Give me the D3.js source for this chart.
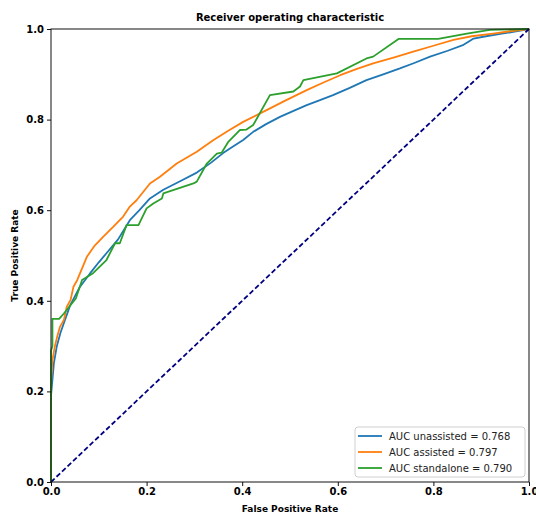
<!DOCTYPE html>
<html>
<head>
<meta charset="utf-8">
<script src="https://cdn.jsdelivr.net/npm/d3@7"></script>
<style>
  body { margin: 0; background: #fff; }
  text { font-family: "DejaVu Sans", sans-serif; }
</style>
</head>
<body>
<div id="chart"></div>
<script>
// ROC curves
const unassistedFpr = [0, 0, 0.006, 0.012, 0.02, 0.04, 0.06, 0.082, 0.1, 0.116, 0.14, 0.165, 0.185, 0.207, 0.235, 0.27, 0.305, 0.335, 0.36, 0.38, 0.402, 0.423, 0.45, 0.479, 0.505, 0.535, 0.56, 0.59, 0.625, 0.66, 0.695, 0.73, 0.76, 0.793, 0.83, 0.863, 0.875, 0.884, 0.91, 0.94, 0.97, 1.0];
const unassistedTpr = [0, 0.19, 0.262, 0.299, 0.33, 0.39, 0.43, 0.461, 0.485, 0.505, 0.535, 0.578, 0.6, 0.626, 0.645, 0.664, 0.683, 0.705, 0.726, 0.74, 0.755, 0.773, 0.79, 0.806, 0.818, 0.832, 0.842, 0.854, 0.87, 0.887, 0.9, 0.913, 0.925, 0.939, 0.952, 0.965, 0.973, 0.979, 0.984, 0.989, 0.994, 1.0];

const assistedFpr = [0, 0, 0.003, 0.008, 0.013, 0.019, 0.027, 0.033, 0.041, 0.047, 0.055, 0.075, 0.09, 0.109, 0.13, 0.151, 0.165, 0.179, 0.207, 0.228, 0.263, 0.305, 0.34, 0.37, 0.402, 0.451, 0.49, 0.535, 0.57, 0.605, 0.64, 0.674, 0.72, 0.758, 0.8, 0.842, 0.88, 0.925, 0.96, 1.0];
const assistedTpr = [0, 0.22, 0.269, 0.299, 0.321, 0.343, 0.358, 0.387, 0.402, 0.431, 0.446, 0.497, 0.52, 0.541, 0.563, 0.586, 0.608, 0.622, 0.659, 0.674, 0.703, 0.729, 0.755, 0.775, 0.795, 0.821, 0.842, 0.865, 0.882, 0.898, 0.912, 0.924, 0.938, 0.95, 0.963, 0.976, 0.984, 0.99, 0.995, 1.0];

const standaloneFpr = [0, 0, 0.003, 0.003, 0.017, 0.027, 0.052, 0.065, 0.088, 0.116, 0.134, 0.144, 0.158, 0.183, 0.2, 0.214, 0.232, 0.235, 0.298, 0.305, 0.326, 0.347, 0.357, 0.371, 0.395, 0.409, 0.423, 0.458, 0.507, 0.521, 0.528, 0.598, 0.66, 0.674, 0.727, 0.81, 0.87, 0.918, 1.0];
const standaloneTpr = [0, 0.29, 0.3, 0.36, 0.36, 0.372, 0.405, 0.446, 0.461, 0.49, 0.527, 0.527, 0.567, 0.567, 0.604, 0.615, 0.626, 0.637, 0.659, 0.663, 0.703, 0.725, 0.727, 0.751, 0.777, 0.778, 0.788, 0.854, 0.862, 0.873, 0.887, 0.902, 0.935, 0.939, 0.978, 0.978, 0.99, 0.998, 1.0];

const seriesNames = ["AUC unassisted = 0.768", "AUC assisted = 0.797", "AUC standalone = 0.790"];
const seriesColors = ["#1f77b4", "#ff7f0e", "#2ca02c"];
const tickValues = [0, 0.2, 0.4, 0.6, 0.8, 1.0];

const series = [
  { name: seriesNames[0], color: seriesColors[0], points: unassistedFpr.map((x, i) => [x, unassistedTpr[i]]) },
  { name: seriesNames[1], color: seriesColors[1], points: assistedFpr.map((x, i) => [x, assistedTpr[i]]) },
  { name: seriesNames[2], color: seriesColors[2], points: standaloneFpr.map((x, i) => [x, standaloneTpr[i]]) },
];

// Set up the SVG element and dimensions
const svgWidth = 536;
const svgHeight = 514;
const margin = { top: 29, right: 7, bottom: 32, left: 51 };
const chartWidth = svgWidth - margin.left - margin.right;
const chartHeight = svgHeight - margin.top - margin.bottom;

const svg = d3.select("#chart")
  .append("svg")
  .attr("width", svgWidth)
  .attr("height", svgHeight);

const chart = svg.append("g")
  .attr("transform", `translate(${margin.left}, ${margin.top})`);

// Scales
const xScale = d3.scaleLinear().domain([0, 1]).range([0, chartWidth]);
const yScale = d3.scaleLinear().domain([0, 1]).range([chartHeight, 0]);

const line = d3.line()
  .x(d => xScale(d[0]))
  .y(d => yScale(d[1]));

// Curves
series.forEach(s => {
  chart.append("path")
    .datum(s.points)
    .attr("fill", "none")
    .attr("stroke", s.color)
    .attr("stroke-width", 1.8)
    .attr("stroke-linejoin", "round")
    .attr("d", line);
});

// Chance diagonal
chart.append("path")
  .datum([[0, 0], [1, 1]])
  .attr("fill", "none")
  .attr("stroke", "navy")
  .attr("stroke-width", 1.8)
  .attr("stroke-dasharray", "5,2.6")
  .attr("d", line);

// Frame
chart.append("rect")
  .attr("width", chartWidth)
  .attr("height", chartHeight)
  .attr("fill", "none")
  .attr("stroke", "#111")
  .attr("stroke-width", 1);

// Axes
const xAxis = d3.axisBottom(xScale).tickValues(tickValues).tickFormat(d3.format(".1f")).tickSize(4).tickPadding(2);
const yAxis = d3.axisLeft(yScale).tickValues(tickValues).tickFormat(d3.format(".1f")).tickSize(4).tickPadding(3);

const gx = chart.append("g")
  .attr("transform", `translate(0, ${chartHeight})`)
  .call(xAxis);
const gy = chart.append("g").call(yAxis);

[gx, gy].forEach(g => {
  g.select(".domain").remove();
  g.selectAll(".tick line").attr("stroke", "#111");
  g.selectAll(".tick text")
    .attr("fill", "#000")
    .attr("font-size", 10)
    .attr("font-weight", "bold")
    .attr("font-family", "DejaVu Sans");
});

// Legend
const legend = chart.append("g")
  .attr("transform", `translate(${xScale(1) - 174}, ${yScale(0) - 55})`);

legend.append("rect")
  .attr("width", 170)
  .attr("height", 50)
  .attr("rx", 3)
  .attr("fill", "#fff")
  .attr("fill-opacity", 0.8)
  .attr("stroke", "#d0d0d0");

series.forEach((s, i) => {
  const row = legend.append("g").attr("transform", `translate(0, ${9 + i * 16})`);
  row.append("line")
    .attr("x1", 3).attr("x2", 27)
    .attr("stroke", s.color)
    .attr("stroke-width", 1.8);
  row.append("text")
    .attr("x", 34)
    .attr("y", 3.5)
    .attr("font-size", 10)
    .attr("fill", "#222")
    .text(s.name);
});

// Titles
svg.append("text")
  .attr("x", margin.left + chartWidth / 2)
  .attr("y", 21)
  .attr("text-anchor", "middle")
  .attr("font-weight", "bold")
  .attr("font-size", 10)
  .text("Receiver operating characteristic");

svg.append("text")
  .attr("x", margin.left + chartWidth / 2)
  .attr("y", 512)
  .attr("text-anchor", "middle")
  .attr("font-weight", "bold")
  .attr("font-size", 9)
  .text("False Positive Rate");

svg.append("text")
  .attr("transform", `translate(18, ${margin.top + chartHeight / 2}) rotate(-90)`)
  .attr("text-anchor", "middle")
  .attr("font-weight", "bold")
  .attr("font-size", 9)
  .text("True Positive Rate");
</script>
</body>
</html>
